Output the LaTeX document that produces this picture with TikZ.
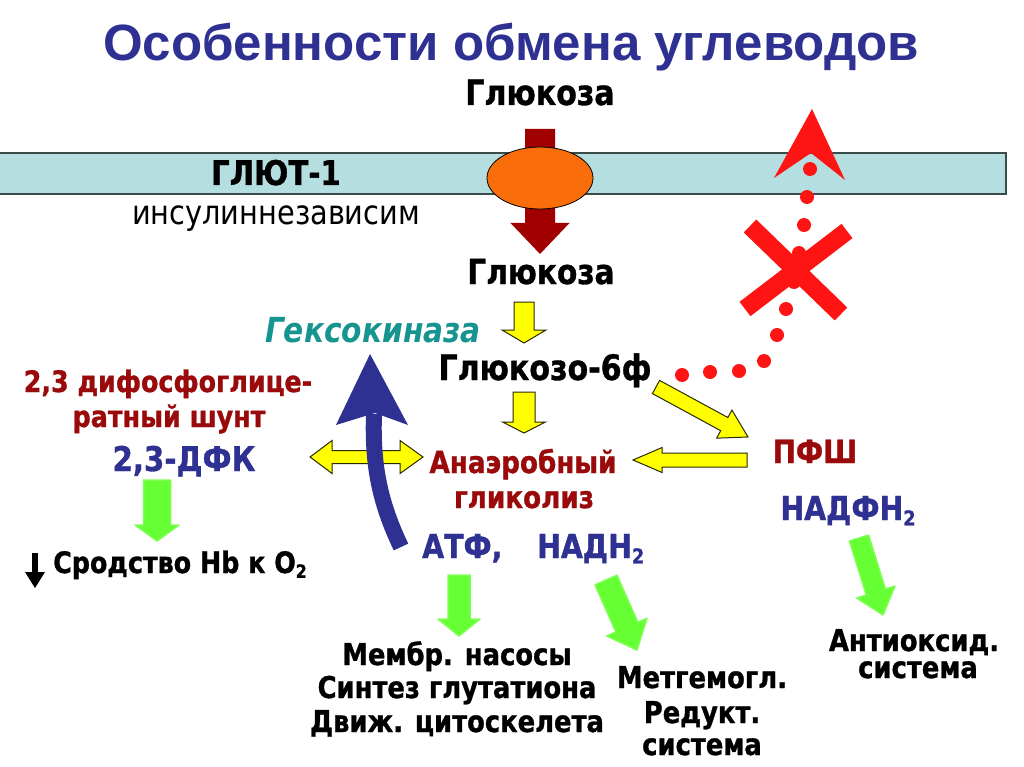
\documentclass[tikz,border=0pt]{standalone}
\usepackage{fontspec}
\setmainfont{DejaVu Sans}
\newfontfamily\tfont{Liberation Sans}
\newfontfamily\bfont[FakeStretch=0.86, BoldFeatures={FakeBold=1}]{DejaVu Sans}
\newfontfamily\rfont[FakeStretch=0.86]{DejaVu Sans}
\usetikzlibrary{calc,shapes.geometric}
\definecolor{ttl}{HTML}{2E3192}
\definecolor{dred}{HTML}{9A0A0A}
\definecolor{teal2}{HTML}{16948F}
\definecolor{bandc}{HTML}{B4DEE0}
\definecolor{bandl}{HTML}{3C4A4A}
\definecolor{orng}{HTML}{F96E0A}
\definecolor{brwn}{HTML}{A00000}
\definecolor{grn}{HTML}{66FF33}
\definecolor{yel}{HTML}{FFFF00}
\definecolor{yline}{HTML}{2A2A00}
\definecolor{xred}{HTML}{FF1414}
\newcommand{\fs}[1]{\fontsize{#1}{#1}\selectfont}
\newcommand{\sbs}[1]{\raisebox{-0.3ex}{\scalebox{0.62}{#1}}}
\newcommand{\barrow}[6][]{%
  \coordinate (ba-h) at ($(#3)!#6pt!(#2)$);
  \path[#1] ($(#2)!#4pt!90:(#3)$) -- ($(ba-h)!#4pt!90:(#3)$) -- ($(ba-h)!#5pt!90:(#3)$) -- (#3)
    -- ($(ba-h)!#5pt!-90:(#3)$) -- ($(ba-h)!#4pt!-90:(#3)$) -- ($(#2)!#4pt!-90:(#3)$) -- cycle;}
\tikzset{
  txt/.style={inner sep=0pt, anchor=base, font=\bfont\bfseries\fs{#1}},
  yarrow/.style={fill=yel, draw=yline, line width=1pt, line join=miter},
  garrow/.style={fill=grn, draw=grn!85!white, line width=1.5pt, line join=round},
  barr/.style={fill=brwn},
  rdot/.style={fill=xred},
}
\begin{document}
\begin{tikzpicture}[x=1pt,y=-1pt]
\useasboundingbox (0,0) rectangle (1024,767);
\fill[white] (0,0) rectangle (1024,767);
% title
\node[inner sep=0pt, anchor=base, text=ttl, font=\tfont\bfseries\fs{51}] (title) at (511,61) {Особенности обмена углеводов};
% membrane
\fill[bandc] (0,153) rectangle (1006,194);
\draw[bandl, line width=1.3pt] (0,153) -- (1006,153) -- (1006,194) -- (0,194);
% glucose transport
\coordinate (bs) at (540,129);
\coordinate (be) at (540,254);
\barrow[barr]{bs}{be}{15}{29.5}{31}
\node[ellipse, draw=black, line width=0.8pt, fill=orng, minimum width=106pt, minimum height=62pt, inner sep=0pt] (glut1) at (540,178) {};
\node[txt=35] (glu1) at (540,105) {Глюкоза};
\node[txt=34] (glutname) at (276,185) {ГЛЮТ-1};
\node[inner sep=0pt, anchor=base, font=\rfont\fs{33.5}] (insul) at (276,225) {инсулиннезависим};
\node[txt=34.5] (glu2) at (541,284) {Глюкоза};
\node[inner sep=0pt, anchor=base, text=teal2, font=\bfont\bfseries\itshape\fs{34.5}] (hex) at (373,342) {Гексокиназа};
\node[txt=35] (g6f) at (545,380) {Глюкозо-6ф};
% yellow arrows
\coordinate (y1s) at (524,302); \coordinate (y1e) at (524,343);
\barrow[yarrow]{y1s}{y1e}{10}{22}{13}
\coordinate (y2s) at (524,392); \coordinate (y2e) at (524,433);
\barrow[yarrow]{y2s}{y2e}{11}{21.5}{11}
\coordinate (y3s) at (656,387); \coordinate (y3e) at (748,437);
\barrow[yarrow]{y3s}{y3e}{7.5}{16}{27}
\coordinate (y4s) at (747,460); \coordinate (y4e) at (633,460);
\barrow[yarrow]{y4s}{y4e}{7}{12.5}{29}
\path[yarrow] (310,457) -- (332,440.5) -- (332,450.5) -- (400,450.5) -- (400,440.5) -- (423,457)
  -- (400,473.5) -- (400,463.5) -- (332,463.5) -- (332,473.5) -- cycle;
% left texts
\node[txt=29.5, text=dred] (shunt1) at (168,392) {2,3 дифосфоглице-};
\node[txt=29.5, text=dred] (shunt2) at (169,427) {ратный шунт};
\node[txt=34, text=ttl] (dfk) at (184,471) {2,3-ДФК};
\coordinate (g1s) at (157,480); \coordinate (g1e) at (157,541);
\barrow[garrow]{g1s}{g1e}{13.5}{22}{16}
\node[txt=29.5, anchor=base west] (affin) at (53,573) {Сродство Hb к O\sbs{2}};
\draw[black, line width=6pt] (35,553) -- (35,575);
\fill[black] (25,572) -- (45,572) -- (35,588) -- cycle;
% centre texts
\node[txt=30.5, text=dred] (anae1) at (523,473) {Анаэробный};
\node[txt=30.5, text=dred] (anae2) at (524,508) {гликолиз};
\node[txt=33, text=ttl, anchor=base west] (atf) at (422,558) {АТФ,};
\node[txt=33, text=ttl, anchor=base west] (nadh) at (537,558) {НАДН\sbs{2}};
% blue curved arrow
\coordinate (bls) at (401,547);
\coordinate (ble) at (374,414);
\draw[ttl, line width=16pt] (bls) .. controls (381,505) and (372,468) .. (ble);
\fill[ttl] (370,354) -- (408,425) -- (375,413) -- (336,425) -- cycle;
% green arrows centre
\coordinate (g2s) at (459,575); \coordinate (g2e) at (459,636);
\barrow[garrow]{g2s}{g2e}{11}{21}{17}
\coordinate (g3s) at (606,580); \coordinate (g3e) at (637,650);
\barrow[garrow]{g3s}{g3e}{12}{22}{25}
\node[txt=30] (mem1) at (457,665) {Мембр. насосы};
\node[txt=30] (mem2) at (457,698) {Синтез глутатиона};
\node[txt=30] (mem3) at (457,732) {Движ. цитоскелета};
\node[txt=30] (met1) at (702,688) {Метгемогл.};
\node[txt=30] (met2) at (702,723) {Редукт.};
\node[txt=30] (met3) at (702,755) {система};
% right
\node[txt=32, text=dred] (pfsh) at (815,463) {ПФШ};
\node[txt=33, text=ttl] (nadph) at (848,520) {НАДФН\sbs{2}};
\coordinate (g4s) at (859,538); \coordinate (g4e) at (883,615);
\barrow[garrow]{g4s}{g4e}{10}{20}{24}
\node[txt=30] (anti1) at (914,651) {Антиоксид.};
\node[txt=30] (anti2) at (918,678) {система};
% red dotted blocked path
\foreach \p in {(682,375),(710,372),(739,371),(764,361),(777,335),(786,309),(794,282),(799,253),(804,225),(807,197),(810,169)}
  \fill[rdot] \p circle (7);
\fill[xred] (812,109) -- (845,180) -- (811,153) -- (774,178) -- cycle;
\draw[xred, line width=18pt] (750,226) -- (841,314);
\draw[xred, line width=18pt] (847,231) -- (745,309);
\end{tikzpicture}
\end{document}
